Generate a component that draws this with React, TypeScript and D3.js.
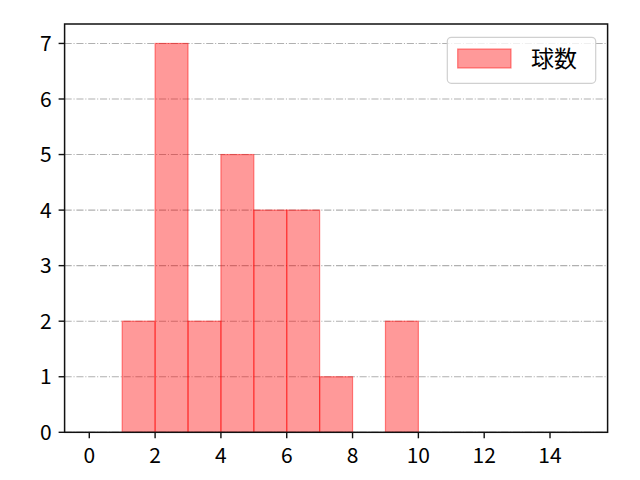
import * as d3 from "d3";

const binStarts = [1, 2, 3, 4, 5, 6, 7, 8, 9];
const counts = [2, 7, 2, 5, 4, 4, 1, 0, 2];
const xTicks = [0, 2, 4, 6, 8, 10, 12, 14];
const yTicks = [0, 1, 2, 3, 4, 5, 6, 7];
const legendLabel = "球数";

const W = 640;
const H = 480;
const left = 64.6;
const right = 607.6;
const top = 24;
const bottom = 432.3;
const font = "'Noto Sans CJK JP', 'Noto Sans', sans-serif";

export default function App() {
  const x = d3.scaleLinear().domain([-0.75, 15.75]).range([left, right]);
  const y = d3.scaleLinear().domain([0, 7.35]).range([bottom, top]);

  return (
    <svg width={W} height={H} style={{ position: "absolute", left: 0, top: 0 }}>
      <rect x={0} y={0} width={W} height={H} fill="#fff" />
      {yTicks.map(t => (
        <line key={"g" + t} x1={left} x2={right} y1={y(t)} y2={y(t)}
          stroke="#b0b0b0" strokeWidth={1.1} strokeDasharray="7.1,1.8,1.1,1.8" />
      ))}
      {binStarts.map((b, i) => counts[i] > 0 && (
        <rect key={"b" + b} x={x(b)} y={y(counts[i])} width={x(b + 1) - x(b)}
          height={y(0) - y(counts[i])} fill="rgba(255,0,0,0.4)"
          stroke="rgba(255,0,0,0.45)" strokeWidth={1.2} />
      ))}
      <rect x={left} y={top} width={right - left} height={bottom - top}
        fill="none" stroke="#111" strokeWidth={1.5} />
      {xTicks.map(t => (
        <g key={"x" + t}>
          <line x1={x(t)} x2={x(t)} y1={bottom} y2={bottom + 6} stroke="#111" strokeWidth={1.4} />
          <text x={x(t)} y={bottom + 31} textAnchor="middle" fontSize={21} fontFamily={font} fill="#000">{t}</text>
        </g>
      ))}
      {yTicks.map(t => (
        <g key={"y" + t}>
          <line x1={left - 6} x2={left} y1={y(t)} y2={y(t)} stroke="#111" strokeWidth={1.4} />
          <text x={left - 13} y={y(t)} dy="0.36em" textAnchor="end" fontSize={21} fontFamily={font} fill="#000">{t}</text>
        </g>
      ))}
      <rect x={447.3} y={37.3} width={148.4} height={46} rx={4} fill="rgba(255,255,255,0.8)"
        stroke="#d0d0d0" strokeWidth={1.2} />
      <rect x={457.7} y={49} width={53.3} height={19} fill="rgba(255,0,0,0.4)"
        stroke="rgba(255,0,0,0.45)" strokeWidth={1.2} />
      <text x={531} y={59} dy="0.36em" fontSize={23} fontFamily={font} fill="#000">{legendLabel}</text>
    </svg>
  );
}
